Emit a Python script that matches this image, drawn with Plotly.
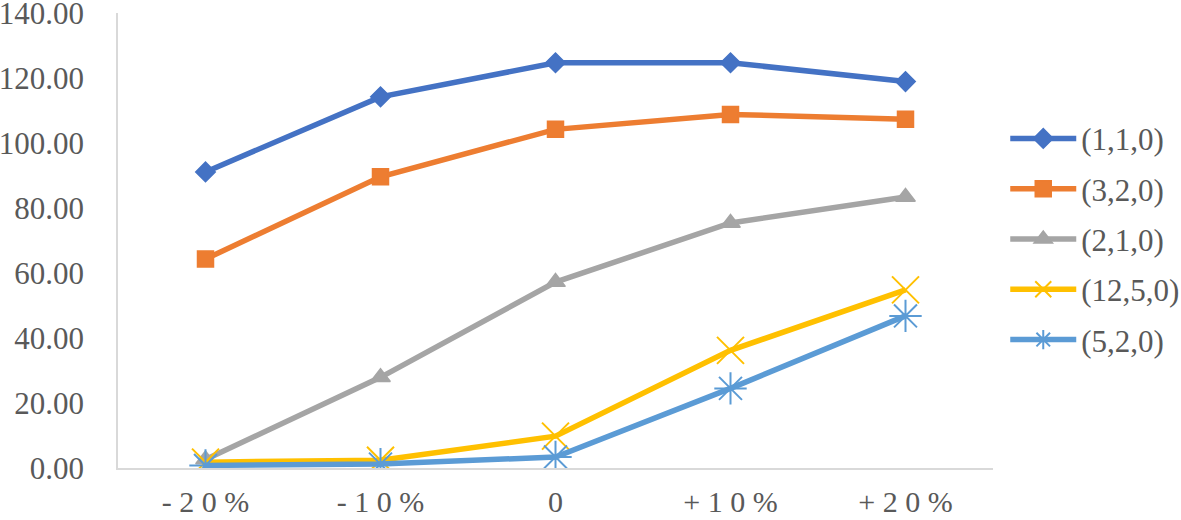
import plotly.graph_objects as go

categories = ["-20%", "-10%", "0", "+10%", "+20%"]
tick_text = ["- 2 0 %", "- 1 0 %", "0", "+ 1 0 %", "+ 2 0 %"]

names = ["(1,1,0)", "(3,2,0)", "(2,1,0)", "(12,5,0)", "(5,2,0)"]
s110 = [91.1, 114.2, 124.7, 124.7, 118.9]
s320 = [64.3, 89.6, 104.2, 108.8, 107.3]
s210 = [2.6, 27.9, 57.2, 75.4, 83.4]
s1250 = [1.8, 2.4, 9.8, 36.2, 54.8]
s520 = [0.8, 1.2, 3.4, 24.5, 46.8]

series = [s110, s320, s210, s1250, s520]
colors = ["#4472C4", "#ED7D31", "#A5A5A5", "#FFC000", "#5B9BD5"]
symbols = ["diamond", "square", "triangle-up", "x-thin-open", "asterisk-open"]
sizes = [15, 16, 17, 27, 27]
mlw = [1.5, 1.5, 1.5, 2, 2]

fig = go.Figure()
for i, (n, s) in enumerate(zip(names, series)):
    fig.add_trace(go.Scatter(
        x=categories, y=s, name=n, mode="lines+markers",
        line=dict(color=colors[i], width=5.5),
        marker=dict(symbol=symbols[i], size=sizes[i], color=colors[i],
                    line=dict(color=colors[i], width=mlw[i])),
        legendgroup=f"g{i}",
    ))

font_family = "Liberation Serif, Times New Roman, serif"
fig.update_layout(
    width=1181, height=520,
    margin=dict(l=118, r=188, t=13, b=52, autoexpand=False),
    plot_bgcolor="white", paper_bgcolor="white",
    font=dict(family=font_family, size=31, color="#595959"),
    showlegend=True,
    legend=dict(x=1.014, xanchor="left", y=0.783, yanchor="top",
                traceorder="grouped", tracegroupgap=7,
                font=dict(family=font_family, size=31, color="#595959"),
                bgcolor="rgba(0,0,0,0)", itemwidth=66),
    xaxis=dict(
        type="category", tickmode="array", tickvals=categories, ticktext=tick_text,
        showline=True, linecolor="#D9D9D9", linewidth=1.5, showgrid=False,
        ticks="", ticklabelstandoff=6, zeroline=False, automargin=False,
        range=[-0.5, 4.5], ticklabeloverflow="allow",
        tickfont=dict(family=font_family, size=30, color="#595959"),
    ),
    yaxis=dict(
        range=[0, 140], tickmode="array",
        tickvals=[0, 20, 40, 60, 80, 100, 120, 140],
        ticktext=["0.00", "20.00", "40.00", "60.00", "80.00", "100.00", "120.00", "140.00"],
        showline=True, linecolor="#D9D9D9", linewidth=1.5, showgrid=False,
        zeroline=False, ticks="", ticklabelstandoff=26, automargin=False,
        ticklabeloverflow="allow",
    ),
)

fig.write_html(
    "out.html",
    config={"displayModeBar": False},
    post_script="document.body.style.margin='0';document.body.style.overflow='hidden';",
)
